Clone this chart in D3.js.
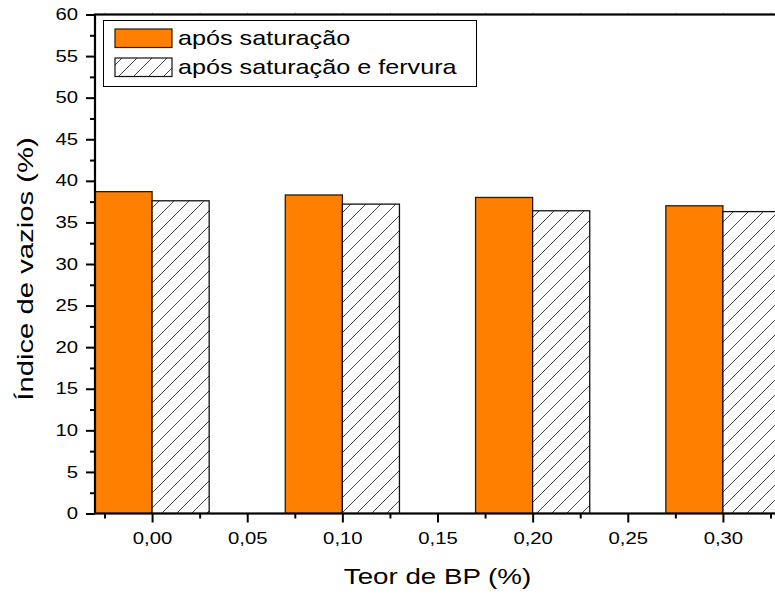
<!DOCTYPE html>
<html>
<head>
<meta charset="utf-8">
<script src="https://cdn.jsdelivr.net/npm/d3@7"></script>
<style>
  html, body { margin: 0; padding: 0; background: #fff; overflow: hidden; }
  svg { display: block; font-family: "Liberation Sans", Arial, sans-serif; }
</style>
</head>
<body>
<svg id="chart" width="775" height="599"></svg>
<script>
// ---- data ----
const categories = [0.00, 0.10, 0.20, 0.30];
const seriesNames = ["após saturação", "após saturação e fervura"];
const afterSaturation = [38.7, 38.3, 38.0, 37.0];
const afterSaturationBoiling = [37.6, 37.2, 36.4, 36.3];
const xTickValues = [0.00, 0.05, 0.10, 0.15, 0.20, 0.25, 0.30];
const xMinorTicks = [-0.025, 0.025, 0.075, 0.125, 0.175, 0.225, 0.275, 0.325];
const yTickValues = [0, 5, 10, 15, 20, 25, 30, 35, 40, 45, 50, 55, 60];
const yMinorTicks = [2.5, 7.5, 12.5, 17.5, 22.5, 27.5, 32.5, 37.5, 42.5, 47.5, 52.5, 57.5];
const barWidth = 0.03;

const svg = d3.select("#chart");
const mLeft = 95, mRight = 780, mTop = 14.5, mBottom = 513.5;

const x = d3.scaleLinear().domain([-0.03, 0.33]).range([mLeft, mRight]);
const y = d3.scaleLinear().domain([0, 60]).range([mBottom, mTop]);

// widen glyphs horizontally (reference glyphs are wider than the font's natural shape)
function widen(sel, f) {
  sel.each(function () {
    const t = d3.select(this);
    const x0 = +(t.attr("x") || 0);
    const tr = t.attr("transform") || "";
    t.attr("x", x0 / f).attr("transform", `${tr} scale(${f},1)`);
  });
}

// hatch pattern
const defs = svg.append("defs");
const pat = defs.append("pattern")
  .attr("id", "hatch")
  .attr("patternUnits", "userSpaceOnUse")
  .attr("width", 15).attr("height", 15);
pat.append("rect").attr("width", 15).attr("height", 15).attr("fill", "#fff");
pat.append("path")
  .attr("d", "M-3.75,3.75 L3.75,-3.75 M0,15 L15,0 M11.25,18.75 L18.75,11.25")
  .attr("stroke", "#333").attr("stroke-width", 0.9);

defs.append("clipPath").attr("id", "plotclip")
  .append("rect").attr("x", mLeft).attr("y", mTop).attr("width", mRight - mLeft).attr("height", mBottom - mTop);

const plot = svg.append("g").attr("clip-path", "url(#plotclip)");

// bars: orange to the left of the category, hatched to the right
plot.selectAll("rect.s1").data(categories).join("rect")
  .attr("class", "s1")
  .attr("x", d => x(d - barWidth))
  .attr("width", d => x(d) - x(d - barWidth))
  .attr("y", (d, i) => y(afterSaturation[i]))
  .attr("height", (d, i) => y(0) - y(afterSaturation[i]))
  .attr("fill", "#FF8000")
  .attr("stroke", "#2a1a0a").attr("stroke-width", 1.3);

plot.selectAll("rect.s2").data(categories).join("rect")
  .attr("class", "s2")
  .attr("x", d => x(d))
  .attr("width", d => x(d + barWidth) - x(d))
  .attr("y", (d, i) => y(afterSaturationBoiling[i]))
  .attr("height", (d, i) => y(0) - y(afterSaturationBoiling[i]))
  .attr("fill", "url(#hatch)")
  .attr("stroke", "#111").attr("stroke-width", 1.3);

const fmt = d => d3.format(".2f")(d).replace(".", ",");

// bottom axis
const xAxis = svg.append("g").attr("transform", `translate(0,${mBottom})`)
  .call(d3.axisBottom(x).tickValues(xTickValues).tickSize(9).tickPadding(10).tickFormat(fmt));
xAxis.select(".domain").remove();
xAxis.selectAll(".tick line").attr("stroke", "#000").attr("stroke-width", 2);
xAxis.selectAll(".tick text").attr("font-size", 16).attr("fill", "#000")
  .attr("font-family", "Liberation Sans, Arial, sans-serif").call(widen, 1.27);
const xMinor = svg.append("g").attr("transform", `translate(0,${mBottom})`)
  .call(d3.axisBottom(x).tickValues(xMinorTicks).tickSize(5).tickFormat(""));
xMinor.select(".domain").remove();
xMinor.selectAll(".tick line").attr("stroke", "#000").attr("stroke-width", 2);

// faint ticks on the top edge
const xTop = svg.append("g").attr("transform", `translate(0,${mTop})`)
  .call(d3.axisTop(x).tickValues(xTickValues.concat(xMinorTicks)).tickSize(2).tickFormat(""));
xTop.select(".domain").remove();
xTop.selectAll(".tick line").attr("stroke", "#bbb").attr("stroke-width", 1);

// left axis
const yAxis = svg.append("g").attr("transform", `translate(${mLeft},0)`)
  .call(d3.axisLeft(y).tickValues(yTickValues).tickSize(9).tickPadding(8).tickFormat(d3.format("d")));
yAxis.select(".domain").remove();
yAxis.selectAll(".tick line").attr("stroke", "#000").attr("stroke-width", 2);
yAxis.selectAll(".tick text").attr("font-size", 16).attr("fill", "#000")
  .attr("font-family", "Liberation Sans, Arial, sans-serif").call(widen, 1.27);
const yMinor = svg.append("g").attr("transform", `translate(${mLeft},0)`)
  .call(d3.axisLeft(y).tickValues(yMinorTicks).tickSize(5).tickFormat(""));
yMinor.select(".domain").remove();
yMinor.selectAll(".tick line").attr("stroke", "#000").attr("stroke-width", 2);

// frame
svg.append("rect")
  .attr("x", mLeft).attr("y", mTop).attr("width", mRight - mLeft).attr("height", mBottom - mTop)
  .attr("fill", "none").attr("stroke", "#000").attr("stroke-width", 2.2);

// axis titles
svg.append("text")
  .attr("transform", `translate(${x(0.15)},584)`)
  .attr("text-anchor", "middle").attr("font-size", 22).attr("fill", "#000")
  .text("Teor de BP (%)").call(widen, 1.26);
svg.append("text")
  .attr("transform", `translate(33,${(mTop + mBottom) / 2 + 5}) rotate(-90)`)
  .attr("text-anchor", "middle").attr("font-size", 22).attr("fill", "#000")
  .text("Índice de vazios (%)").call(widen, 1.33);

// legend
const lg = svg.append("g");
lg.append("rect").attr("x", 103.5).attr("y", 20.5).attr("width", 373).attr("height", 66)
  .attr("fill", "#fff").attr("stroke", "#000").attr("stroke-width", 1);
const legendFills = ["#FF8000", "url(#hatch)"];
seriesNames.forEach((name, i) => {
  const yy = 29 + i * 29;
  lg.append("rect").attr("x", 115).attr("y", yy).attr("width", 57).attr("height", 18.5)
    .attr("fill", legendFills[i]).attr("stroke", i === 0 ? "#2a1a0a" : "#111").attr("stroke-width", 1.2);
  lg.append("text").attr("x", 178).attr("y", yy + 16).attr("font-size", 20).attr("fill", "#000")
    .text(name).call(widen, 1.26);
});
</script>
</body>
</html>
